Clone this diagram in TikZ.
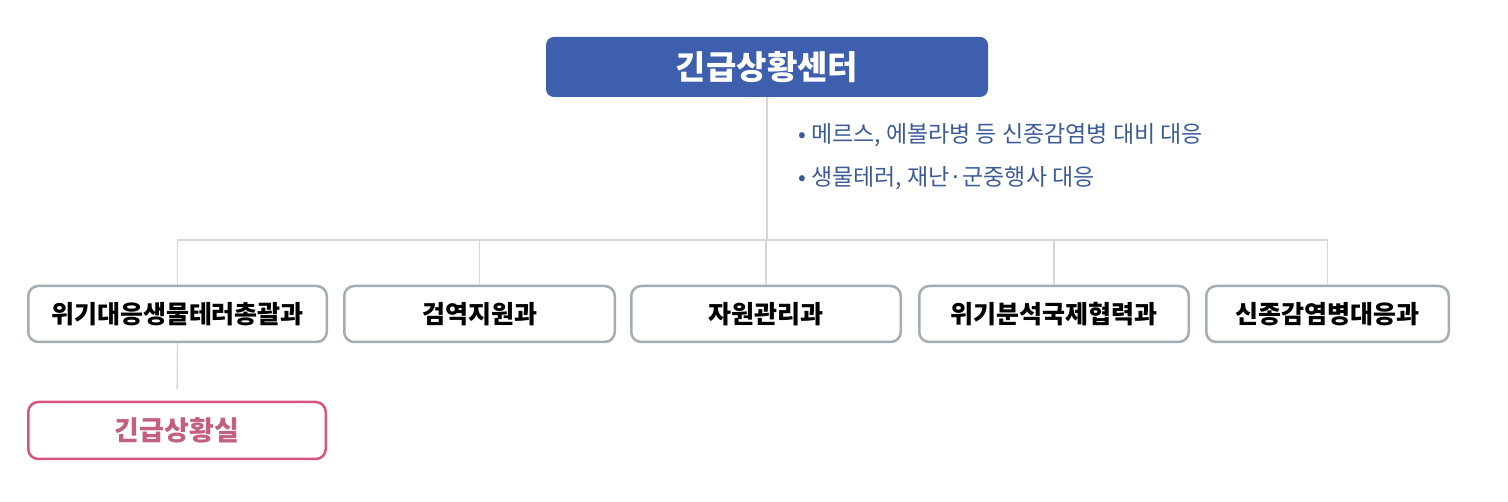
\documentclass[tikz,border=0pt]{standalone}
\usepackage{fontspec}
\newfontfamily\kr{Noto Sans CJK KR}
\usepackage{tikz}
\usetikzlibrary{%
  positioning
 ,calc
}
\definecolor{ctrblue}{HTML}{3E5FAD}
\definecolor{notetext}{HTML}{3D5C97}
\definecolor{deptgray}{HTML}{A3ADB3}
\definecolor{linkgray}{HTML}{D3D7DA}
\definecolor{roompink}{HTML}{D9547C}
\definecolor{roomtext}{HTML}{C4607F}
\tikzstyle{org}=[x=1pt,y=-1pt]
\tikzstyle{topbox}=[rectangle,rounded corners=8pt,fill=ctrblue,text=white,minimum width=442pt,minimum height=60pt,font=\kr\bfseries\fontsize{33}{38}\selectfont]
\tikzstyle{deptbox}=[rectangle,rounded corners=10pt,draw=deptgray,line width=2.5pt,fill=white,minimum height=56pt,inner sep=0pt,font=\kr\bfseries\fontsize{25}{28}\selectfont]
\tikzstyle{roombox}=[deptbox,draw=roompink,text=roomtext,minimum height=57pt,font=\kr\bfseries\fontsize{27}{30}\selectfont]
\tikzstyle{link}=[draw=linkgray,line width=1.3pt]

\begin{document}
\begin{tikzpicture}[org]
  \useasboundingbox (0,0) rectangle (1508,502);
  \node[topbox]                         (ctr)   at (767,67)  {긴급상황센터};
  \node[align=left,anchor=north west,text=notetext,inner sep=0pt,
        font=\kr\fontsize{23}{43}\selectfont]
                                        (note)  at (798,123) {• 메르스, 에볼라병 등 신종감염병 대비 대응\\• 생물테러, 재난·군중행사 대응};
%
  \node[deptbox,minimum width=298.5pt]  (gen)   at (177.5,314)  {위기대응생물테러총괄과};
  \node[deptbox,minimum width=270.5pt]  (quar)  at (479.5,314)  {검역지원과};
  \node[deptbox,minimum width=269.5pt]  (res)   at (766,314)    {자원관리과};
  \node[deptbox,minimum width=269.5pt]  (intl)  at (1054,314)   {위기분석국제협력과};
  \node[deptbox,minimum width=242.5pt]  (eid)   at (1327.5,314) {신종감염병대응과};
  \node[roombox,minimum width=297.5pt]  (room)  at (177,430.5)  {긴급상황실};
%
  \coordinate (bus) at (767,240);
  \path[link]
  (ctr.south) -- (bus)
  (gen.north) |- (bus)
  (quar.north) |- (bus)
  (res.north) |- (bus)
  (intl.north) |- (bus)
  (eid.north) |- (bus);
  \draw[link,shorten >=12pt] (gen.south) -- (room.north);

\end{tikzpicture}
\end{document}
